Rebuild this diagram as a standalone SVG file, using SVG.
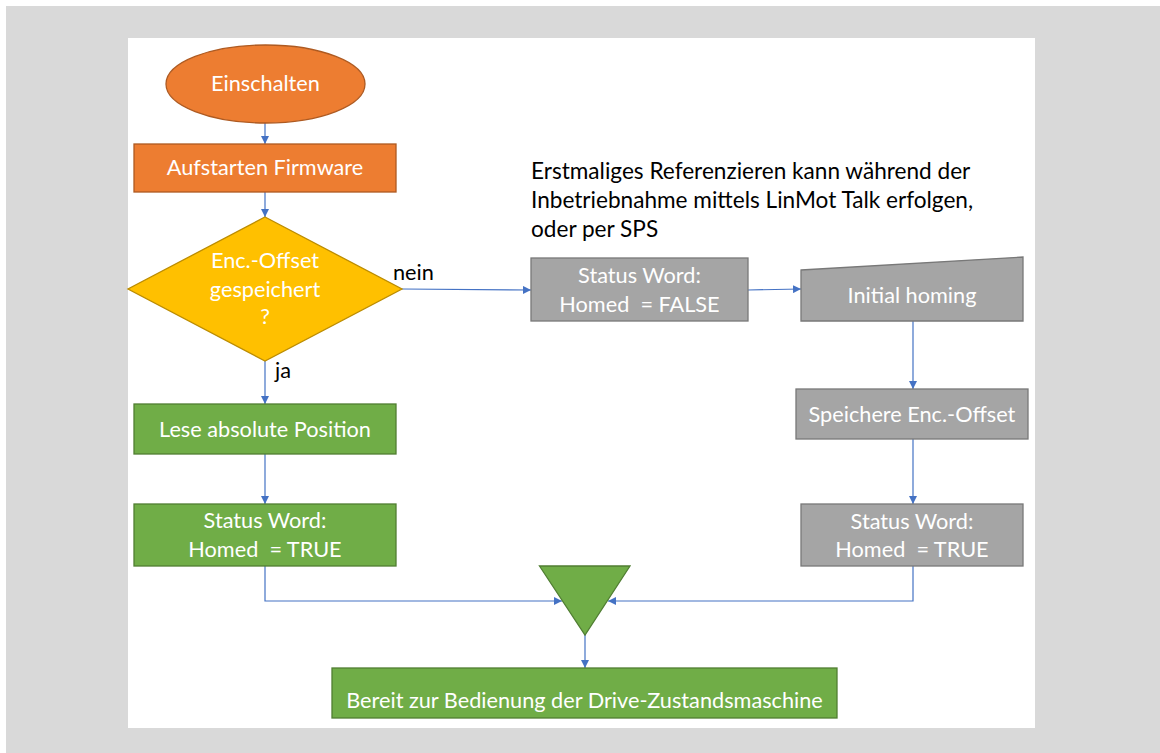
<svg xmlns="http://www.w3.org/2000/svg" width="1160" height="753" viewBox="0 0 1160 753">
<defs>
<marker id="ah" viewBox="0 0 10 10" refX="10" refY="5" markerWidth="8" markerHeight="8" markerUnits="userSpaceOnUse" orient="auto">
<path d="M0,0 L10,5 L0,10 z" fill="#4472C4"/>
</marker>
</defs>
<style>
text{font-family:"Lato","Liberation Sans",sans-serif;font-size:21.7px;white-space:pre}
.w{fill:#ffffff;text-anchor:middle}
.b{fill:#000000}
.n{font-size:22.6px}
.org{fill:#ED7D31;stroke:#AE5A21;stroke-width:1.3}
.yel{fill:#FFC000;stroke:#BC8C00;stroke-width:1.3}
.grn{fill:#70AD47;stroke:#507E32;stroke-width:1.3}
.gry{fill:#A5A5A5;stroke:#787878;stroke-width:1.3}
.c{fill:none;stroke:#4472C4;stroke-width:1.2}
.ca{fill:none;stroke:#4472C4;stroke-width:1.2;marker-end:url(#ah)}
</style>
<rect x="6" y="6" width="1154" height="747" fill="#D9D9D9"/>
<rect x="128" y="38" width="907" height="690" fill="#FFFFFF"/>
<g id="connectors">
<line class="ca" x1="265" y1="123" x2="265" y2="144"/>
<line class="ca" x1="265" y1="192" x2="265" y2="217"/>
<line class="c" x1="265" y1="361" x2="265" y2="383"/>
<line class="ca" x1="265" y1="383" x2="265" y2="404"/>
<line class="ca" x1="265" y1="454" x2="265" y2="504"/>
<polyline class="ca" points="265,566 265,601 562,601"/>
<line class="ca" x1="402" y1="289" x2="531" y2="290"/>
<line class="ca" x1="748" y1="290" x2="801" y2="289"/>
<line class="ca" x1="913" y1="321" x2="913" y2="389"/>
<line class="ca" x1="913" y1="439" x2="913" y2="504"/>
<polyline class="ca" points="913,566 913,601 608,601"/>
<line class="ca" x1="585" y1="635" x2="585" y2="668"/>
</g>
<g id="einschalten">
<ellipse class="org" cx="265.5" cy="84" rx="99.5" ry="39"/>
<text class="w" x="265.5" y="91">Einschalten</text>
</g>
<g id="aufstarten">
<rect class="org" x="134" y="144" width="262" height="48"/>
<text class="w" x="265" y="175">Aufstarten Firmware</text>
</g>
<g id="decision">
<polygon class="yel" points="265,217 402,289 265,361 128,289"/>
<text class="w" x="265" y="268">Enc.-Offset</text>
<text class="w" x="265" y="297">gespeichert</text>
<text class="w" x="265" y="324">?</text>
</g>
<g id="label-nein"><text class="b" x="393" y="280">nein</text></g>
<g id="label-ja"><text class="b" x="275" y="378">ja</text></g>
<g id="lese">
<rect class="grn" x="134" y="404" width="262" height="50"/>
<text class="w" x="265" y="437">Lese absolute Position</text>
</g>
<g id="status-true-left">
<rect class="grn" x="134" y="504" width="262" height="62"/>
<text class="w" x="265" y="528">Status Word:</text>
<text class="w" x="265" y="557">Homed  = TRUE</text>
</g>
<g id="status-false">
<rect class="gry" x="531" y="258" width="217" height="63"/>
<text class="w" x="639.5" y="283">Status Word:</text>
<text class="w" x="639.5" y="312">Homed  = FALSE</text>
</g>
<g id="initial-homing">
<polygon class="gry" points="801,270 1023,257 1023,321 801,321"/>
<text class="w" x="912" y="303">Initial homing</text>
</g>
<g id="speichere">
<rect class="gry" x="796" y="389" width="232" height="50"/>
<text class="w" x="912" y="422">Speichere Enc.-Offset</text>
</g>
<g id="status-true-right">
<rect class="gry" x="801" y="504" width="222" height="62"/>
<text class="w" x="912" y="529">Status Word:</text>
<text class="w" x="912" y="557">Homed  = TRUE</text>
</g>
<g id="merge">
<polygon class="grn" points="539.5,566 630,566 585,635"/>
</g>
<g id="bereit">
<rect class="grn" x="332" y="668" width="505" height="50"/>
<text class="w" x="584.5" y="708">Bereit zur Bedienung der Drive-Zustandsmaschine</text>
</g>
<g id="note">
<text class="b n" x="531" y="179">Erstmaliges Referenzieren kann während der</text>
<text class="b n" x="531" y="208">Inbetriebnahme mittels LinMot Talk erfolgen,</text>
<text class="b n" x="531" y="237">oder per SPS</text>
</g>
</svg>
